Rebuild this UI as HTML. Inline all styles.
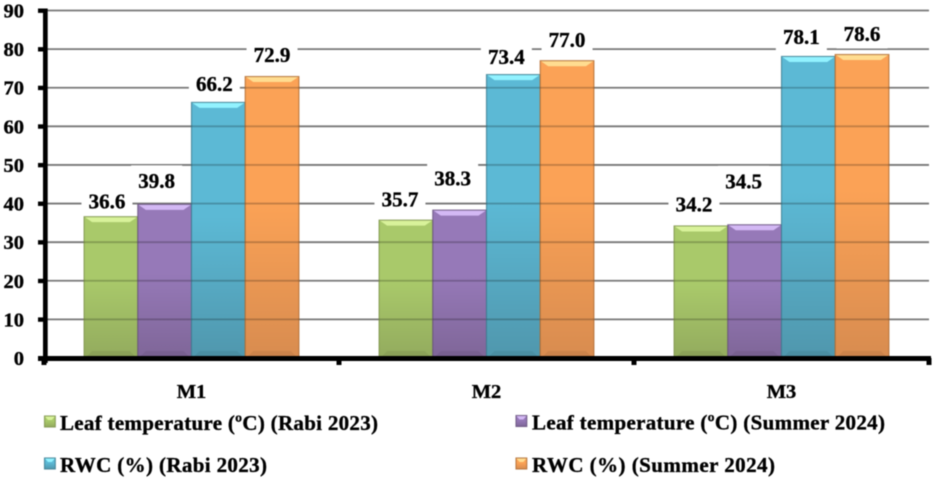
<!DOCTYPE html>
<html lang="en">
<head>
<meta charset="utf-8">
<title>Leaf temperature and RWC</title>
<style>
html,body{margin:0;padding:0;background:#fff;width:935px;height:479px;overflow:hidden}
svg{display:block;filter:blur(0.4px)}
text{font-family:"Liberation Serif",serif;font-weight:bold;fill:#000;stroke:#000;stroke-width:0.35px}
</style>
</head>
<body>
<svg id="chart" xmlns="http://www.w3.org/2000/svg" width="935" height="479" viewBox="0 0 935 479"></svg>
<script>
const categories = ['M1', 'M2', 'M3'];
const seriesNames = ['Leaf temperature (ºC) (Rabi 2023)', 'Leaf temperature (ºC) (Summer 2024)', 'RWC (%) (Rabi 2023)', 'RWC (%) (Summer 2024)'];
const leafRabi = [36.6, 35.7, 34.2];
const leafSummer = [39.8, 38.3, 34.5];
const rwcRabi = [66.2, 73.4, 78.1];
const rwcSummer = [72.9, 77.0, 78.6];
const yTicks = [0, 10, 20, 30, 40, 50, 60, 70, 80, 90];

const series = [leafRabi, leafSummer, rwcRabi, rwcSummer];
const palette = [
  {top:'#a9c96a', bottom:'#93ab5e', bevel:'#d8f29a', edge:'#7f944c'},
  {top:'#9679b8', bottom:'#7f6698', bevel:'#d3b8f4', edge:'#68527f'},
  {top:'#5cb9d5', bottom:'#5097ad', bevel:'#92f2ff', edge:'#3c7e92'},
  {top:'#fba256', bottom:'#d88c50', bevel:'#ffdc90', edge:'#b06c33'}
];
/* hand-placed label nudges, relative to each bar's centre and top: [dx, rise] */
const labelNudge = [
  [[-4,15.5],[-8,24],[-4,19],[0,22]],
  [[-6,21],[-7,32],[-7,18],[0,21]],
  [[-7,22],[-11,44],[-7,20],[0,21]]
];

const svg = document.getElementById('chart');
const NS = 'http://www.w3.org/2000/svg';
const plotL = 44, plotR = 929, plotT = 10.5, plotB = 358, yMax = 90;
const catW = (plotR - plotL) / categories.length, barW = 53.7;
const y = v => plotB - (v / yMax) * (plotB - plotT);
const groupX = i => plotL + catW * (i + 0.5) - barW * series.length / 2;
const barX = (c, s) => groupX(c) + s * barW;

function make(tag, attrs, parent) {
  const el = document.createElementNS(NS, tag);
  for (const k in attrs) el.setAttribute(k, attrs[k]);
  (parent || svg).appendChild(el);
  return el;
}
function poly(pts, fill, parent) {
  return make('polygon', {points: pts.map(p => p.join(',')).join(' '), fill}, parent);
}

const defs = make('defs', {});
palette.forEach((p, i) => {
  const g = make('linearGradient', {id: 'bar-grad-' + i, x1: 0, y1: 0, x2: 0, y2: 1}, defs);
  make('stop', {offset: '0', 'stop-color': p.top}, g);
  make('stop', {offset: '0.45', 'stop-color': p.top}, g);
  make('stop', {offset: '1', 'stop-color': p.bottom}, g);
});

/* gridlines */
yTicks.forEach(t => {
  if (t === 0) return;
  const line = make('line', {x1: plotL, x2: plotR, y1: y(t), y2: y(t), stroke: '#777', 'stroke-width': 1.8});
  
  
});

/* white boxes behind the value labels */
categories.forEach((c, ci) => {
  series.forEach((vals, si) => {
    const n = labelNudge[ci][si];
    const cx = barX(ci, si) + barW / 2 + n[0], cy = y(vals[ci]) - n[1];
    const mask = make('rect', {x: cx - 25.5, y: cy - 15, width: 51, height: 30, fill: '#fff'});
    
    
  });
});

/* bars */
function drawBevelBar(x, top, w, h, idx, parent, bx, by) {
  const p = palette[idx];
  make('rect', {x, y: top, width: w, height: h, fill: 'url(#bar-grad-' + idx + ')'}, parent);
  poly([[x, top], [x + w, top], [x + w - bx, top + by], [x + bx, top + by]], p.bevel, parent);
  make('rect', {x: x, y: top, width: w, height: h, fill: 'none', stroke: p.edge, 'stroke-width': 1.1, 'stroke-opacity': 0.85}, parent);
}
categories.forEach((c, ci) => {
  series.forEach((vals, si) => {
    const v = vals[ci], x = barX(ci, si), top = y(v), h = plotB - top;
    const g = make('g', {});
    
    
    drawBevelBar(x, top, barW, h, si, g, 8, 5.5);
    yTicks.forEach(t => {
      if (t > 0 && t < v) make('line', {x1: x, x2: x + barW, y1: y(t), y2: y(t), stroke: '#000', 'stroke-opacity': 0.22, 'stroke-width': 1.8}, g);
    });
    poly([[x + 1, plotB], [x + barW - 1, plotB], [x + barW - 8, plotB - 7], [x + 8, plotB - 7]], 'rgba(0,0,0,0.06)', g);
  });
});

/* axes */
const yAxis = make('rect', {x: plotL - 1, y: plotT - 2, width: 4.7, height: plotB - plotT + 7, fill: '#000'});


const xAxis = make('rect', {x: plotL - 6, y: plotB - 2, width: plotR - plotL + 8, height: 5, fill: '#000'});



yTicks.forEach(t => {
  const tick = make('rect', {x: plotL - 6, y: y(t) - 2, width: 6, height: 4.4, fill: '#000'});
  
  
  const label = make('text', {x: 24, y: y(t) + 7, 'text-anchor': 'end', 'font-size': 20.5});
  label.textContent = t;
  
  
});
for (let i = 0; i <= categories.length; i++) {
  const tick = make('rect', {x: plotL + catW * i - 2.5, y: plotB, width: 5, height: 7, fill: '#000'});
  
  
}
categories.forEach((c, i) => {
  const label = make('text', {x: plotL + catW * (i + 0.5), y: 398, 'text-anchor': 'middle', 'font-size': 20.5});
  label.textContent = c;
  
  
});

/* value labels */
categories.forEach((c, ci) => {
  series.forEach((vals, si) => {
    const n = labelNudge[ci][si];
    const label = make('text', {x: barX(ci, si) + barW / 2 + n[0], y: y(vals[ci]) - n[1] + 7.5, 'text-anchor': 'middle', 'font-size': 21});
    label.textContent = vals[ci].toFixed(1);
    
    
  });
});

/* legend */
const legendSlots = [[44.5, 430, 60, 318], [516, 429.5, 532, 353], [44.5, 472, 60, 207], [516, 472, 532, 243]];
seriesNames.forEach((name, i) => {
  const s = legendSlots[i];
  const g = make('g', {});
  
  
  drawBevelBar(s[0], s[1] - 14, 10.8, 11, i, g, 3.5, 4);
  const t = make('text', {x: s[2], y: s[1], 'font-size': 21, textLength: s[3], lengthAdjust: 'spacing'}, g);
  t.textContent = name;
  
  
});
</script>
</body>
</html>
